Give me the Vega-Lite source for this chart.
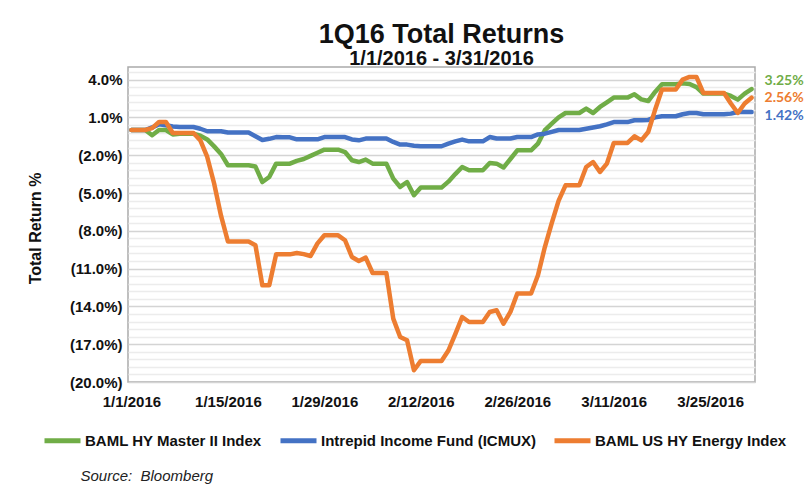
{
"$schema":"https://vega.github.io/schema/vega-lite/v6.json",
"width":627,"height":315,
"autosize":"none",
"padding":{"left":128,"top":67,"right":51,"bottom":109},
"background":"white",
"config":{"font":"Liberation Sans","view":{"stroke":"#ababab","strokeWidth":1.5}},
"title":{"text":"1Q16 Total Returns","subtitle":"1/1/2016 - 3/31/2016","font":"Liberation Sans","fontSize":27,"fontWeight":"bold","color":"#111","subtitleFont":"Liberation Sans","subtitleFontSize":20,"subtitleFontWeight":"bold","subtitleColor":"#111","anchor":"middle","offset":-5,"subtitlePadding":0},
"data":{"values":[
{"d":"2016/1/1","s":"G","v":0},{"d":"2016/1/2","s":"G","v":0},{"d":"2016/1/3","s":"G","v":0},{"d":"2016/1/4","s":"G","v":-0.42},{"d":"2016/1/5","s":"G","v":0},{"d":"2016/1/6","s":"G","v":0},{"d":"2016/1/7","s":"G","v":-0.35},{"d":"2016/1/8","s":"G","v":-0.3},{"d":"2016/1/9","s":"G","v":-0.3},{"d":"2016/1/10","s":"G","v":-0.3},{"d":"2016/1/11","s":"G","v":-0.45},{"d":"2016/1/12","s":"G","v":-0.75},{"d":"2016/1/13","s":"G","v":-1.3},{"d":"2016/1/14","s":"G","v":-1.9},{"d":"2016/1/15","s":"G","v":-2.8},{"d":"2016/1/16","s":"G","v":-2.8},{"d":"2016/1/17","s":"G","v":-2.8},{"d":"2016/1/18","s":"G","v":-2.8},{"d":"2016/1/19","s":"G","v":-2.9},{"d":"2016/1/20","s":"G","v":-4.13},{"d":"2016/1/21","s":"G","v":-3.73},{"d":"2016/1/22","s":"G","v":-2.67},{"d":"2016/1/23","s":"G","v":-2.67},{"d":"2016/1/24","s":"G","v":-2.67},{"d":"2016/1/25","s":"G","v":-2.45},{"d":"2016/1/26","s":"G","v":-2.3},{"d":"2016/1/27","s":"G","v":-2.05},{"d":"2016/1/28","s":"G","v":-1.8},{"d":"2016/1/29","s":"G","v":-1.56},{"d":"2016/1/30","s":"G","v":-1.56},{"d":"2016/1/31","s":"G","v":-1.56},
{"d":"2016/2/1","s":"G","v":-1.75},{"d":"2016/2/2","s":"G","v":-2.4},{"d":"2016/2/3","s":"G","v":-2.54},{"d":"2016/2/4","s":"G","v":-2.35},{"d":"2016/2/5","s":"G","v":-2.67},{"d":"2016/2/6","s":"G","v":-2.67},{"d":"2016/2/7","s":"G","v":-2.67},{"d":"2016/2/8","s":"G","v":-3.86},{"d":"2016/2/9","s":"G","v":-4.52},{"d":"2016/2/10","s":"G","v":-4.13},{"d":"2016/2/11","s":"G","v":-5.18},{"d":"2016/2/12","s":"G","v":-4.57},{"d":"2016/2/13","s":"G","v":-4.57},{"d":"2016/2/14","s":"G","v":-4.57},{"d":"2016/2/15","s":"G","v":-4.57},{"d":"2016/2/16","s":"G","v":-4.1},{"d":"2016/2/17","s":"G","v":-3.5},{"d":"2016/2/18","s":"G","v":-2.94},{"d":"2016/2/19","s":"G","v":-3.2},{"d":"2016/2/20","s":"G","v":-3.2},{"d":"2016/2/21","s":"G","v":-3.2},{"d":"2016/2/22","s":"G","v":-2.62},{"d":"2016/2/23","s":"G","v":-2.67},{"d":"2016/2/24","s":"G","v":-2.98},{"d":"2016/2/25","s":"G","v":-2.3},{"d":"2016/2/26","s":"G","v":-1.61},{"d":"2016/2/27","s":"G","v":-1.61},{"d":"2016/2/28","s":"G","v":-1.61},{"d":"2016/2/29","s":"G","v":-1.08},
{"d":"2016/3/1","s":"G","v":-0.02},{"d":"2016/3/2","s":"G","v":0.5},{"d":"2016/3/3","s":"G","v":1.0},{"d":"2016/3/4","s":"G","v":1.35},{"d":"2016/3/5","s":"G","v":1.35},{"d":"2016/3/6","s":"G","v":1.35},{"d":"2016/3/7","s":"G","v":1.7},{"d":"2016/3/8","s":"G","v":1.35},{"d":"2016/3/9","s":"G","v":1.83},{"d":"2016/3/10","s":"G","v":2.2},{"d":"2016/3/11","s":"G","v":2.57},{"d":"2016/3/12","s":"G","v":2.57},{"d":"2016/3/13","s":"G","v":2.57},{"d":"2016/3/14","s":"G","v":2.83},{"d":"2016/3/15","s":"G","v":2.43},{"d":"2016/3/16","s":"G","v":2.3},{"d":"2016/3/17","s":"G","v":3.02},{"d":"2016/3/18","s":"G","v":3.63},{"d":"2016/3/19","s":"G","v":3.63},{"d":"2016/3/20","s":"G","v":3.63},{"d":"2016/3/21","s":"G","v":3.7},{"d":"2016/3/22","s":"G","v":3.65},{"d":"2016/3/23","s":"G","v":3.4},{"d":"2016/3/24","s":"G","v":2.89},{"d":"2016/3/25","s":"G","v":2.89},{"d":"2016/3/26","s":"G","v":2.89},{"d":"2016/3/27","s":"G","v":2.89},{"d":"2016/3/28","s":"G","v":2.7},{"d":"2016/3/29","s":"G","v":2.41},{"d":"2016/3/30","s":"G","v":2.89},{"d":"2016/3/31","s":"G","v":3.25},
{"d":"2016/1/1","s":"B","v":0},{"d":"2016/1/2","s":"B","v":0},{"d":"2016/1/3","s":"B","v":0},{"d":"2016/1/4","s":"B","v":0.2},{"d":"2016/1/5","s":"B","v":0.45},{"d":"2016/1/6","s":"B","v":0.37},{"d":"2016/1/7","s":"B","v":0.28},{"d":"2016/1/8","s":"B","v":0.24},{"d":"2016/1/9","s":"B","v":0.24},{"d":"2016/1/10","s":"B","v":0.24},{"d":"2016/1/11","s":"B","v":0.1},{"d":"2016/1/12","s":"B","v":-0.1},{"d":"2016/1/13","s":"B","v":-0.1},{"d":"2016/1/14","s":"B","v":-0.1},{"d":"2016/1/15","s":"B","v":-0.2},{"d":"2016/1/16","s":"B","v":-0.2},{"d":"2016/1/17","s":"B","v":-0.2},{"d":"2016/1/18","s":"B","v":-0.2},{"d":"2016/1/19","s":"B","v":-0.5},{"d":"2016/1/20","s":"B","v":-0.8},{"d":"2016/1/21","s":"B","v":-0.7},{"d":"2016/1/22","s":"B","v":-0.56},{"d":"2016/1/23","s":"B","v":-0.58},{"d":"2016/1/24","s":"B","v":-0.58},{"d":"2016/1/25","s":"B","v":-0.74},{"d":"2016/1/26","s":"B","v":-0.74},{"d":"2016/1/27","s":"B","v":-0.74},{"d":"2016/1/28","s":"B","v":-0.74},{"d":"2016/1/29","s":"B","v":-0.56},{"d":"2016/1/30","s":"B","v":-0.56},{"d":"2016/1/31","s":"B","v":-0.56},
{"d":"2016/2/1","s":"B","v":-0.56},{"d":"2016/2/2","s":"B","v":-0.75},{"d":"2016/2/3","s":"B","v":-0.82},{"d":"2016/2/4","s":"B","v":-0.68},{"d":"2016/2/5","s":"B","v":-0.68},{"d":"2016/2/6","s":"B","v":-0.68},{"d":"2016/2/7","s":"B","v":-0.68},{"d":"2016/2/8","s":"B","v":-0.95},{"d":"2016/2/9","s":"B","v":-1.16},{"d":"2016/2/10","s":"B","v":-1.16},{"d":"2016/2/11","s":"B","v":-1.25},{"d":"2016/2/12","s":"B","v":-1.29},{"d":"2016/2/13","s":"B","v":-1.29},{"d":"2016/2/14","s":"B","v":-1.29},{"d":"2016/2/15","s":"B","v":-1.29},{"d":"2016/2/16","s":"B","v":-1.08},{"d":"2016/2/17","s":"B","v":-0.9},{"d":"2016/2/18","s":"B","v":-0.76},{"d":"2016/2/19","s":"B","v":-0.9},{"d":"2016/2/20","s":"B","v":-0.9},{"d":"2016/2/21","s":"B","v":-0.9},{"d":"2016/2/22","s":"B","v":-0.56},{"d":"2016/2/23","s":"B","v":-0.68},{"d":"2016/2/24","s":"B","v":-0.68},{"d":"2016/2/25","s":"B","v":-0.68},{"d":"2016/2/26","s":"B","v":-0.56},{"d":"2016/2/27","s":"B","v":-0.56},{"d":"2016/2/28","s":"B","v":-0.56},{"d":"2016/2/29","s":"B","v":-0.35},
{"d":"2016/3/1","s":"B","v":-0.29},{"d":"2016/3/2","s":"B","v":-0.15},{"d":"2016/3/3","s":"B","v":0},{"d":"2016/3/4","s":"B","v":0},{"d":"2016/3/5","s":"B","v":0},{"d":"2016/3/6","s":"B","v":0},{"d":"2016/3/7","s":"B","v":0.1},{"d":"2016/3/8","s":"B","v":0.2},{"d":"2016/3/9","s":"B","v":0.3},{"d":"2016/3/10","s":"B","v":0.45},{"d":"2016/3/11","s":"B","v":0.63},{"d":"2016/3/12","s":"B","v":0.63},{"d":"2016/3/13","s":"B","v":0.63},{"d":"2016/3/14","s":"B","v":0.77},{"d":"2016/3/15","s":"B","v":0.77},{"d":"2016/3/16","s":"B","v":0.8},{"d":"2016/3/17","s":"B","v":1.0},{"d":"2016/3/18","s":"B","v":1.09},{"d":"2016/3/19","s":"B","v":1.09},{"d":"2016/3/20","s":"B","v":1.09},{"d":"2016/3/21","s":"B","v":1.25},{"d":"2016/3/22","s":"B","v":1.35},{"d":"2016/3/23","s":"B","v":1.35},{"d":"2016/3/24","s":"B","v":1.25},{"d":"2016/3/25","s":"B","v":1.25},{"d":"2016/3/26","s":"B","v":1.25},{"d":"2016/3/27","s":"B","v":1.25},{"d":"2016/3/28","s":"B","v":1.3},{"d":"2016/3/29","s":"B","v":1.43},{"d":"2016/3/30","s":"B","v":1.43},{"d":"2016/3/31","s":"B","v":1.42},
{"d":"2016/1/1","s":"O","v":0},{"d":"2016/1/2","s":"O","v":0},{"d":"2016/1/3","s":"O","v":0},{"d":"2016/1/4","s":"O","v":0.15},{"d":"2016/1/5","s":"O","v":0.63},{"d":"2016/1/6","s":"O","v":0.63},{"d":"2016/1/7","s":"O","v":-0.24},{"d":"2016/1/8","s":"O","v":-0.24},{"d":"2016/1/9","s":"O","v":-0.24},{"d":"2016/1/10","s":"O","v":-0.24},{"d":"2016/1/11","s":"O","v":-0.82},{"d":"2016/1/12","s":"O","v":-2.14},{"d":"2016/1/13","s":"O","v":-4.25},{"d":"2016/1/14","s":"O","v":-6.8},{"d":"2016/1/15","s":"O","v":-8.85},{"d":"2016/1/16","s":"O","v":-8.85},{"d":"2016/1/17","s":"O","v":-8.85},{"d":"2016/1/18","s":"O","v":-8.85},{"d":"2016/1/19","s":"O","v":-9.15},{"d":"2016/1/20","s":"O","v":-12.33},{"d":"2016/1/21","s":"O","v":-12.33},{"d":"2016/1/22","s":"O","v":-9.87},{"d":"2016/1/23","s":"O","v":-9.87},{"d":"2016/1/24","s":"O","v":-9.87},{"d":"2016/1/25","s":"O","v":-9.76},{"d":"2016/1/26","s":"O","v":-9.85},{"d":"2016/1/27","s":"O","v":-10.0},{"d":"2016/1/28","s":"O","v":-9.0},{"d":"2016/1/29","s":"O","v":-8.36},{"d":"2016/1/30","s":"O","v":-8.36},{"d":"2016/1/31","s":"O","v":-8.36},
{"d":"2016/2/1","s":"O","v":-8.75},{"d":"2016/2/2","s":"O","v":-10.08},{"d":"2016/2/3","s":"O","v":-10.4},{"d":"2016/2/4","s":"O","v":-10.13},{"d":"2016/2/5","s":"O","v":-11.35},{"d":"2016/2/6","s":"O","v":-11.35},{"d":"2016/2/7","s":"O","v":-11.35},{"d":"2016/2/8","s":"O","v":-14.97},{"d":"2016/2/9","s":"O","v":-16.43},{"d":"2016/2/10","s":"O","v":-16.69},{"d":"2016/2/11","s":"O","v":-19.07},{"d":"2016/2/12","s":"O","v":-18.33},{"d":"2016/2/13","s":"O","v":-18.33},{"d":"2016/2/14","s":"O","v":-18.33},{"d":"2016/2/15","s":"O","v":-18.33},{"d":"2016/2/16","s":"O","v":-17.5},{"d":"2016/2/17","s":"O","v":-16.2},{"d":"2016/2/18","s":"O","v":-14.84},{"d":"2016/2/19","s":"O","v":-15.24},{"d":"2016/2/20","s":"O","v":-15.24},{"d":"2016/2/21","s":"O","v":-15.24},{"d":"2016/2/22","s":"O","v":-14.44},{"d":"2016/2/23","s":"O","v":-14.31},{"d":"2016/2/24","s":"O","v":-15.37},{"d":"2016/2/25","s":"O","v":-14.44},{"d":"2016/2/26","s":"O","v":-12.98},{"d":"2016/2/27","s":"O","v":-12.98},{"d":"2016/2/28","s":"O","v":-12.98},{"d":"2016/2/29","s":"O","v":-11.53},
{"d":"2016/3/1","s":"O","v":-9.29},{"d":"2016/3/2","s":"O","v":-7.4},{"d":"2016/3/3","s":"O","v":-5.6},{"d":"2016/3/4","s":"O","v":-4.39},{"d":"2016/3/5","s":"O","v":-4.39},{"d":"2016/3/6","s":"O","v":-4.39},{"d":"2016/3/7","s":"O","v":-2.94},{"d":"2016/3/8","s":"O","v":-2.54},{"d":"2016/3/9","s":"O","v":-3.33},{"d":"2016/3/10","s":"O","v":-2.67},{"d":"2016/3/11","s":"O","v":-1.03},{"d":"2016/3/12","s":"O","v":-1.03},{"d":"2016/3/13","s":"O","v":-1.03},{"d":"2016/3/14","s":"O","v":-0.5},{"d":"2016/3/15","s":"O","v":-0.82},{"d":"2016/3/16","s":"O","v":-0.16},{"d":"2016/3/17","s":"O","v":1.6},{"d":"2016/3/18","s":"O","v":3.21},{"d":"2016/3/19","s":"O","v":3.21},{"d":"2016/3/20","s":"O","v":3.21},{"d":"2016/3/21","s":"O","v":4.0},{"d":"2016/3/22","s":"O","v":4.21},{"d":"2016/3/23","s":"O","v":4.21},{"d":"2016/3/24","s":"O","v":2.94},{"d":"2016/3/25","s":"O","v":2.94},{"d":"2016/3/26","s":"O","v":2.94},{"d":"2016/3/27","s":"O","v":2.94},{"d":"2016/3/28","s":"O","v":2.1},{"d":"2016/3/29","s":"O","v":1.35},{"d":"2016/3/30","s":"O","v":2.1},{"d":"2016/3/31","s":"O","v":2.56}
]},
"encoding":{
"x":{"field":"d","type":"temporal",
"scale":{"domain":[{"year":2015,"month":12,"date":31,"hours":12},{"year":2016,"month":3,"date":31,"hours":12}]},
"axis":{"values":[{"year":2016,"month":1,"date":1},{"year":2016,"month":1,"date":15},{"year":2016,"month":1,"date":29},{"year":2016,"month":2,"date":12},{"year":2016,"month":2,"date":26},{"year":2016,"month":3,"date":11},{"year":2016,"month":3,"date":25}],
"format":"%-m/%-d/%Y","grid":false,"ticks":false,"domain":false,"labelFont":"Liberation Sans","labelFontSize":15,"labelFontWeight":"bold","labelColor":"#111","labelPadding":12,"labelFlush":false,"labelOverlap":false,
"title":"Source:\u00a0 Bloomberg","titleFont":"Liberation Sans","titleFontSize":15,"titleFontWeight":"normal","titleFontStyle":"italic","titleColor":"#222","titleX":-48,"titleY":93,"titleAlign":"left","titleBaseline":"middle"}},
"y":{"field":"v","type":"quantitative",
"scale":{"domain":[-20,5],"nice":false,"zero":false},
"axis":{"values":[-20,-19.4,-18.8,-18.2,-17.6,-17,-16.4,-15.8,-15.2,-14.6,-14,-13.4,-12.8,-12.2,-11.6,-11,-10.4,-9.8,-9.2,-8.6,-8,-7.4,-6.8,-6.2,-5.6,-5,-4.4,-3.8,-3.2,-2.6,-2,-1.4,-0.8,-0.2,0.4,1,1.6,2.2,2.8,3.4,4,4.6],
"labelExpr":"(abs(datum.value - round(datum.value)) < 0.01 && (round(datum.value) + 20) % 3 == 0) ? (datum.value < 0 ? '(' + format(-datum.value, '.1f') + '%)' : format(datum.value, '.1f') + '%') : ''",
"gridColor":{"condition":{"test":"abs(datum.value - round(datum.value)) < 0.01 && (round(datum.value) + 20) % 3 == 0","value":"#d4d4d4"},"value":"#ececec"},
"gridWidth":1.5,"ticks":false,"domain":false,"labelFont":"Liberation Sans","labelFontSize":15,"labelFontWeight":"bold","labelColor":"#111","labelPadding":6,"labelOverlap":false,"labelFlush":false,
"title":"Total Return %","titleFont":"Liberation Sans","titleFontSize":16,"titleFontWeight":"bold","titleColor":"#111","titleX":-93,"titleY":161,"titleAlign":"center","titleBaseline":"middle","titleAngle":270}},
"color":{"field":"s","type":"nominal",
"scale":{"domain":["G","B","O"],"range":["#70ad47","#4472c4","#ed7d31"]},
"legend":{"orient":"none","direction":"horizontal","legendX":-86,"legendY":353,"title":null,"symbolType":"stroke","symbolSize":1296,"symbolStrokeWidth":5,"labelFont":"Liberation Sans","labelFontSize":15,"labelFontWeight":"bold","labelColor":"#111","labelLimit":400,"labelOffset":2,"columnPadding":8,
"labelExpr":"datum.value == 'G' ? 'BAML HY Master II Index' : datum.value == 'B' ? 'Intrepid Income Fund (ICMUX)' : 'BAML US HY Energy Index'"}}
},
"layer":[
{"mark":{"type":"line","strokeWidth":4.5,"strokeJoin":"round","strokeCap":"round"}},
{"transform":[{"filter":{"timeUnit":"monthdate","field":"d","equal":{"month":3,"date":31}}}],
"mark":{"type":"text","align":"left","baseline":"middle","dx":13,"dy":{"expr":"datum.s == 'G' ? -8 : datum.s == 'B' ? 4 : 0"},"font":"Lato","fontSize":14,"fontWeight":"bold","text":{"expr":"format(datum.v, '.2f') + '%'"}}}
]
}
